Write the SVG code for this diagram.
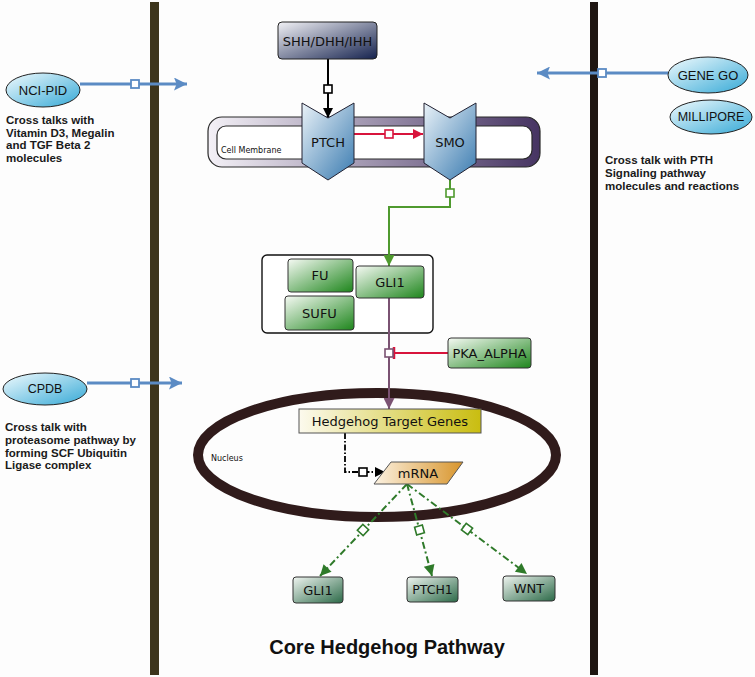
<svg xmlns="http://www.w3.org/2000/svg" width="755" height="677" viewBox="0 0 755 677">
<style>
.node{font-family:"DejaVu Sans",sans-serif;font-size:13px;fill:#111;text-anchor:middle;dominant-baseline:central}
.ell{font-family:"Liberation Sans",Arial,sans-serif;font-size:13px;fill:#111;text-anchor:middle;dominant-baseline:central}
.side{font-family:"Liberation Sans",Arial,sans-serif;font-size:11.5px;font-weight:bold;fill:#1a1a1a}
.small{font-family:"DejaVu Sans",sans-serif;font-size:8px;fill:#111}
.blue{stroke:#5b8bc4;stroke-width:3;fill:none}
.bsq{fill:#fff;stroke:#5b8bc4;stroke-width:1.8}
.gdash{stroke:#2f7a2a;stroke-width:2;fill:none;stroke-dasharray:7 3 2 3}
.gsq{fill:#fff;stroke:#2f7a2a;stroke-width:1.6}
</style>
<defs>
<linearGradient id="gBlue" x1="0" y1="0" x2="1" y2="1"><stop offset="0" stop-color="#f2fbfe"/><stop offset="1" stop-color="#35a9d6"/></linearGradient>
<linearGradient id="gChev" x1="0" y1="0" x2="1" y2="1"><stop offset="0" stop-color="#eaf2f8"/><stop offset="1" stop-color="#3a7bb0"/></linearGradient>
<linearGradient id="gShh" x1="0" y1="0" x2="1" y2="1"><stop offset="0" stop-color="#f2f2f6"/><stop offset="1" stop-color="#15224e"/></linearGradient>
<linearGradient id="gMem" x1="0" y1="0" x2="1" y2="0"><stop offset="0" stop-color="#f4f1f7"/><stop offset="1" stop-color="#463462"/></linearGradient>
<linearGradient id="gGreen" x1="0" y1="0" x2="1" y2="1"><stop offset="0" stop-color="#f6faf4"/><stop offset="1" stop-color="#1e861c"/></linearGradient>
<linearGradient id="gYel" x1="0" y1="0" x2="1" y2="0"><stop offset="0" stop-color="#fcfaee"/><stop offset="1" stop-color="#c9bd10"/></linearGradient>
<linearGradient id="gOr" x1="0" y1="0" x2="1" y2="0"><stop offset="0" stop-color="#fcf2e2"/><stop offset="1" stop-color="#d8952c"/></linearGradient>
<linearGradient id="gBot" x1="0" y1="0" x2="1" y2="1"><stop offset="0" stop-color="#f0f5f1"/><stop offset="1" stop-color="#2c6a48"/></linearGradient>
<marker id="aBlue" viewBox="0 0 10 10" refX="10" refY="5" markerWidth="15" markerHeight="13" markerUnits="userSpaceOnUse" orient="auto"><path d="M0,0 L10,5 L0,10 L2,5 Z" fill="#5b8bc4"/></marker>
<marker id="aBlack" viewBox="0 0 10 10" refX="10" refY="5" markerWidth="12" markerHeight="10" markerUnits="userSpaceOnUse" orient="auto"><path d="M0,0 L10,5 L0,10 Z" fill="#000"/></marker>
<marker id="aRed" viewBox="0 0 10 10" refX="10" refY="5" markerWidth="13" markerHeight="10" markerUnits="userSpaceOnUse" orient="auto"><path d="M0,0 L10,5 L0,10 Z" fill="#d8143c"/></marker>
<marker id="aGreen" viewBox="0 0 10 10" refX="10" refY="5" markerWidth="14" markerHeight="11" markerUnits="userSpaceOnUse" orient="auto"><path d="M0,0 L10,5 L0,10 Z" fill="#4f9a2e"/></marker>
<marker id="aMauve" viewBox="0 0 10 10" refX="10" refY="5" markerWidth="14" markerHeight="11" markerUnits="userSpaceOnUse" orient="auto"><path d="M0,0 L10,5 L0,10 Z" fill="#7a5272"/></marker>
<marker id="aDG" viewBox="0 0 10 10" refX="10" refY="5" markerWidth="14" markerHeight="11" markerUnits="userSpaceOnUse" orient="auto"><path d="M0,0 L10,5 L0,10 Z" fill="#2f7a2a"/></marker>
</defs>
<rect width="755" height="677" fill="#fdfdfd"/>

<!-- vertical bars -->
<rect x="150" y="2" width="9" height="673" fill="#3d351c"/>
<rect x="590" y="2" width="8" height="673" fill="#1f1612"/>

<!-- nucleus -->
<g id="nucleus">
<ellipse cx="377" cy="455" rx="179" ry="62" fill="none" stroke="#301b1b" stroke-width="10"/>
<text class="small" x="211" y="461">Nucleus</text>
</g>

<!-- cell membrane -->
<g id="membrane">
<rect x="208" y="117" width="332" height="50" rx="14" fill="url(#gMem)" stroke="#2a2a2a" stroke-width="1.2"/>
<rect x="217" y="126" width="315" height="33" rx="9" fill="#fff" stroke="#2a2a2a" stroke-width="1.2"/>
<text class="small" x="221" y="153">Cell Membrane</text>
</g>

<!-- complex -->
<g id="complex">
<rect x="262" y="255" width="171" height="78" rx="5" fill="#fff" stroke="#111" stroke-width="1.4"/>
</g>

<g id="connectors">
<!-- cross talk arrows -->
<path class="blue" d="M80,84 H187" marker-end="url(#aBlue)"/>
<rect class="bsq" x="131" y="80" width="8" height="8"/>
<path class="blue" d="M668,73 H537" marker-end="url(#aBlue)"/>
<rect class="bsq" x="598" y="69" width="8" height="8"/>
<path class="blue" d="M87,383 H182" marker-end="url(#aBlue)"/>
<rect class="bsq" x="131" y="379" width="8" height="8"/>
<!-- SHH -> PTCH -->
<path d="M328,59 V118" stroke="#000" stroke-width="2" fill="none" marker-end="url(#aBlack)"/>
<rect x="324" y="85" width="8" height="8" fill="#fff" stroke="#000" stroke-width="1.6"/>
<!-- PTCH -> SMO -->
<path d="M354,134 H423" stroke="#d8143c" stroke-width="2" fill="none" marker-end="url(#aRed)"/>
<rect x="385" y="130" width="8" height="8" fill="#fff" stroke="#d8143c" stroke-width="1.6"/>
<!-- SMO -> GLI1 -->
<path d="M450,180 V207 H389 V266" stroke="#4f9a2e" stroke-width="2" fill="none" marker-end="url(#aGreen)"/>
<rect x="446" y="189" width="8" height="8" fill="#fff" stroke="#4f9a2e" stroke-width="1.6"/>
<!-- GLI1 -> Hedgehog target genes -->
<path d="M389,298 V409" stroke="#7a5272" stroke-width="2" fill="none" marker-end="url(#aMauve)"/>
<!-- PKA inhibition -->
<path d="M448,353 H394" stroke="#d8143c" stroke-width="2" fill="none"/>
<path d="M394,347 V359" stroke="#d8143c" stroke-width="2.5" fill="none"/>
<rect x="385" y="349" width="8" height="8" fill="#fff" stroke="#7a5272" stroke-width="1.6"/>
<!-- Hedgehog -> mRNA -->
<path d="M345,433 V472 H385" stroke="#000" stroke-width="1.8" fill="none" stroke-dasharray="6 2 1.5 2" marker-end="url(#aBlack)"/>
<rect x="359" y="468" width="8" height="8" fill="#fff" stroke="#000" stroke-width="1.6"/>
<!-- mRNA -> targets -->
<path class="gdash" d="M407,484 L320,576" marker-end="url(#aDG)"/>
<rect class="gsq" x="-4" y="-4" width="8" height="8" transform="translate(363,530) rotate(-46.6)"/>
<path class="gdash" d="M407,484 L432,576" marker-end="url(#aDG)"/>
<rect class="gsq" x="-4" y="-4" width="8" height="8" transform="translate(419.5,530) rotate(74.8)"/>
<path class="gdash" d="M407,484 L527,574" marker-end="url(#aDG)"/>
<rect class="gsq" x="-4" y="-4" width="8" height="8" transform="translate(467,529) rotate(36.9)"/>
</g>

<!-- source ellipses -->
<g id="nci-pid">
<ellipse cx="43" cy="90" rx="37" ry="17" fill="url(#gBlue)" stroke="#222" stroke-width="1"/>
<text class="ell" x="43" y="90">NCI-PID</text>
</g>
<g id="gene-go">
<ellipse cx="708" cy="75" rx="40" ry="18" fill="url(#gBlue)" stroke="#222" stroke-width="1"/>
<text class="ell" x="708" y="75">GENE GO</text>
</g>
<g id="millipore">
<ellipse cx="711" cy="117" rx="41" ry="17" fill="url(#gBlue)" stroke="#222" stroke-width="1"/>
<text class="ell" x="711" y="117" style="font-size:12.5px">MILLIPORE</text>
</g>
<g id="cpdb">
<ellipse cx="45" cy="389" rx="42" ry="16" fill="url(#gBlue)" stroke="#222" stroke-width="1"/>
<text class="ell" x="45" y="389" style="font-size:12.5px">CPDB</text>
</g>

<!-- side notes -->
<g id="note-nci">
<text class="side" x="6" y="124">Cross talks with</text>
<text class="side" x="6" y="136.5">Vitamin D3, Megalin</text>
<text class="side" x="6" y="149">and TGF Beta 2</text>
<text class="side" x="6" y="161.5">molecules</text>
</g>
<g id="note-pth">
<text class="side" x="605" y="164">Cross talk with PTH</text>
<text class="side" x="605" y="177">Signaling pathway</text>
<text class="side" x="605" y="190">molecules and reactions</text>
</g>
<g id="note-cpdb">
<text class="side" x="5" y="431">Cross talk with</text>
<text class="side" x="5" y="444">proteasome pathway by</text>
<text class="side" x="5" y="456.5">forming SCF Ubiquitin</text>
<text class="side" x="5" y="469">Ligase complex</text>
</g>

<!-- nodes -->
<g id="shh">
<rect x="278" y="22" width="99" height="37" rx="4" fill="url(#gShh)" stroke="#222" stroke-width="1"/>
<text class="node" x="327.5" y="41">SHH/DHH/IHH</text>
</g>
<g id="ptch">
<polygon points="302,103 328,118 354,103 354,163 328,180 302,163" fill="url(#gChev)" stroke="#223" stroke-width="1"/>
<text class="node" x="328" y="142">PTCH</text>
</g>
<g id="smo">
<polygon points="424,103 450,118 476,103 476,163 450,180 424,163" fill="url(#gChev)" stroke="#223" stroke-width="1"/>
<text class="node" x="450" y="142">SMO</text>
</g>
<g id="fu">
<rect x="288" y="259" width="65" height="33" rx="3" fill="url(#gGreen)" stroke="#333" stroke-width="1"/>
<text class="node" x="320" y="275.5">FU</text>
</g>
<g id="sufu">
<rect x="285" y="296" width="69" height="34" rx="3" fill="url(#gGreen)" stroke="#333" stroke-width="1"/>
<text class="node" x="319.5" y="313">SUFU</text>
</g>
<g id="gli1">
<rect x="356" y="266" width="68" height="32" rx="3" fill="url(#gGreen)" stroke="#333" stroke-width="1"/>
<text class="node" x="390" y="282">GLI1</text>
</g>
<g id="pka">
<rect x="448" y="338" width="83" height="30" rx="3" fill="url(#gGreen)" stroke="#333" stroke-width="1"/>
<text class="node" x="489.5" y="353">PKA_ALPHA</text>
</g>
<g id="hh-target">
<rect x="299" y="409" width="182" height="24" fill="url(#gYel)" stroke="#555" stroke-width="1"/>
<text class="node" x="390" y="421">Hedgehog Target Genes</text>
</g>
<g id="mrna">
<polygon points="391,462 463,462 447,484 374,484" fill="url(#gOr)" stroke="#555" stroke-width="1"/>
<text class="node" x="418" y="473">mRNA</text>
</g>
<g id="gli1-out">
<rect x="293" y="577" width="50" height="26" rx="3" fill="url(#gBot)" stroke="#333" stroke-width="1"/>
<text class="node" x="318" y="590">GLI1</text>
</g>
<g id="ptch1-out">
<rect x="407" y="577" width="51" height="25" rx="3" fill="url(#gBot)" stroke="#333" stroke-width="1"/>
<text class="node" x="432.5" y="589.5" style="font-size:12.5px">PTCH1</text>
</g>
<g id="wnt-out">
<rect x="503" y="576" width="52" height="25" rx="3" fill="url(#gBot)" stroke="#333" stroke-width="1"/>
<text class="node" x="529" y="588.5">WNT</text>
</g>

<text x="387" y="654" text-anchor="middle" style="font-family:'Liberation Sans',Arial,sans-serif;font-size:20px;font-weight:bold;fill:#111">Core Hedgehog Pathway</text>
</svg>
